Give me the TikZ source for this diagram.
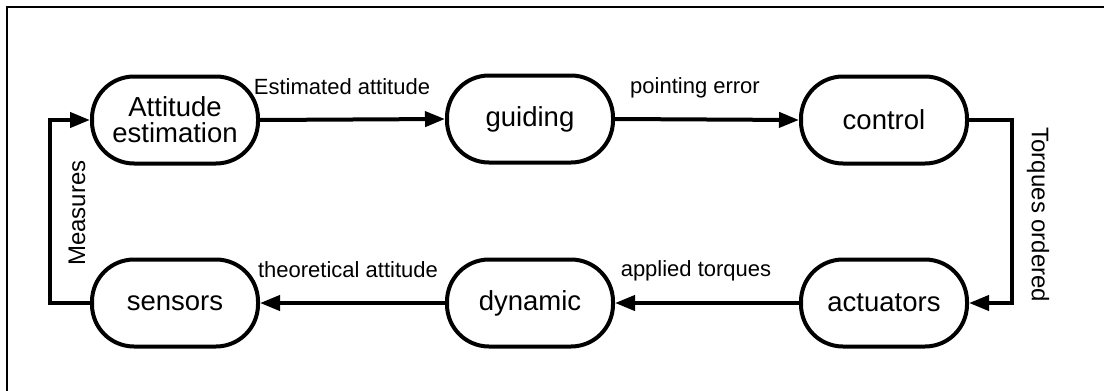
\documentclass[tikz,border=0pt]{standalone}
\usepackage{fontspec}
\setmainfont{Liberation Sans}
\usetikzlibrary{arrows.meta}
\begin{document}
\begin{tikzpicture}[x=1pt,y=-1pt,
  block/.style={draw,line width=4pt,rounded corners=42pt,minimum width=166pt,minimum height=87pt,inner sep=0pt,align=center,font=\fontsize{27.5pt}{30pt}\selectfont},
  flow/.style={line width=4pt,-{Triangle[length=20pt,width=15pt]}},
  lbl/.style={inner sep=0pt,font=\fontsize{22pt}{24pt}\selectfont},
  vlbl/.style={inner sep=0pt,font=\fontsize{24pt}{26pt}\selectfont}]
\useasboundingbox (0,0) rectangle (1104,391);
\draw[line width=2pt] (7,395) -- (7,7) -- (1108,7);
\node[block] (att) at (175,120) {Attitude\\[-4pt]estimation};
\node[block] (gui) at (530,119) {guiding};
\node[block] (con) at (884,120) {control};
\node[block] (act) at (884,303) {actuators};
\node[block] (dyn) at (530,303) {dynamic};
\node[block] (sen) at (175,303) {sensors};
\coordinate (c1) at (50,303);
\coordinate (c2) at (50,120);
\coordinate (c3) at (1012,120);
\coordinate (c4) at (1012,303);
\draw[flow] (att.east) -- (gui.west);
\draw[flow] (gui.east) -- (con.west);
\draw[flow] (con.east) -- (c3) -- (c4) -- (act.east);
\draw[flow] (act.west) -- (dyn.east);
\draw[flow] (dyn.west) -- (sen.east);
\draw[flow] (sen.west) -- (c1) -- (c2) -- (att.west);
\node[lbl] (l1) at (342,87) {Estimated attitude};
\node[lbl] (l2) at (695,88) {pointing error};
\node[lbl] (l3) at (348,270) {theoretical attitude};
\node[lbl] (l4) at (696,271) {applied torques};
\node[vlbl,rotate=-90] (l5) at (1038,215) {Torques ordered};
\node[vlbl,rotate=90] (l6) at (77,213) {Measures};
\end{tikzpicture}
\end{document}
